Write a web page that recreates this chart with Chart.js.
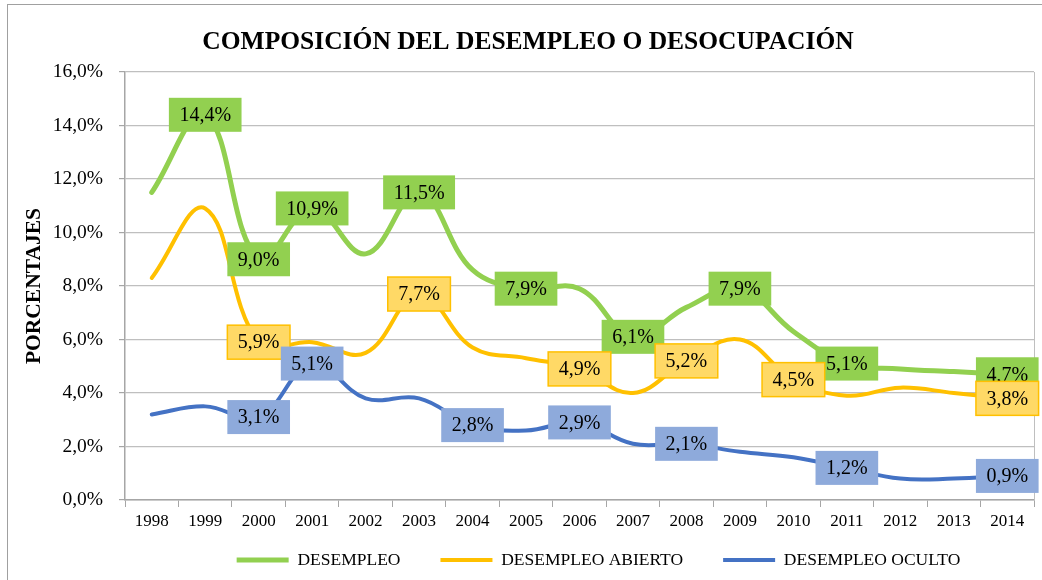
<!DOCTYPE html>
<html>
<head>
<meta charset="utf-8">
<script src="https://cdn.jsdelivr.net/npm/chart.js@4"></script>
<style>
  html, body { margin: 0; padding: 0; background: #fff; }
  #wrap { position: relative; width: 1042px; height: 580px; }
  #frame { position: absolute; left: 7px; top: 4px; width: 1100px; height: 700px; border-left: 1px solid #a0a0a0; border-top: 1px solid #a0a0a0; pointer-events: none; }
</style>
</head>
<body>
<div id="wrap">
  <canvas id="desempleoChart" width="1042" height="580"></canvas>
  <div id="frame"></div>
</div>
<script>
const years = ['1998', '1999', '2000', '2001', '2002', '2003', '2004', '2005', '2006', '2007', '2008', '2009', '2010', '2011', '2012', '2013', '2014'];
const desempleo = [11.5, 14.4, 9.0, 10.9, 9.2, 11.5, 8.6, 7.9, 7.9, 6.1, 7.2, 7.9, 6.3, 5.1, 4.9, 4.8, 4.7];
const desempleoAbierto = [8.3, 10.9, 5.9, 5.9, 5.5, 7.7, 5.7, 5.3, 4.9, 4.0, 5.2, 6.0, 4.5, 3.9, 4.2, 4.0, 3.8];
const desempleoOculto = [3.2, 3.5, 3.1, 5.1, 3.8, 3.8, 2.8, 2.6, 2.9, 2.1, 2.1, 1.8, 1.6, 1.2, 0.8, 0.8, 0.9];
// indices of points that carry a value box
const labelledDesempleo = [1, 2, 3, 5, 7, 9, 11, 13, 16];
const labelledAbierto = [2, 5, 8, 10, 12, 16];
const labelledOculto = [2, 3, 6, 8, 10, 13, 16];
const yTicks = [0, 2, 4, 6, 8, 10, 12, 14, 16];

const serif = "'Liberation Serif', 'Times New Roman', serif";

function fmt(v) {
    return v.toFixed(1).replace('.', ',') + '%';
}

// boxes with the value, drawn on top of every line
const valueBoxes = {
    id: 'valueBoxes',
    afterLayout(chart) {
        // nudge title and legend to where the original sits
        chart.titleBlock.left += 11;
        chart.titleBlock.right += 11;
        chart.legend.left += 19;
        chart.legend.right += 19;
        chart.legend.top -= 20.75;
        chart.legend.height += 20.75;
    },
    beforeDatasetsDraw(chart) {
        const a = chart.chartArea;
        const ctx = chart.ctx;
        ctx.save();
        ctx.strokeStyle = '#bfbfbf';
        ctx.lineWidth = 1;
        ctx.beginPath();
        ctx.moveTo(a.right + 0.5, a.top);
        ctx.lineTo(a.right + 0.5, a.bottom);
        ctx.stroke();
        ctx.restore();
    },
    afterDatasetsDraw(chart) {
        const ctx = chart.ctx;
        ctx.save();
        ctx.font = '20px ' + serif;
        ctx.textAlign = 'center';
        ctx.textBaseline = 'middle';
        chart.data.datasets.forEach(function (ds, di) {
            const meta = chart.getDatasetMeta(di);
            ds.labelled.forEach(function (i) {
                const pt = meta.data[i];
                const text = fmt(ds.data[i]);
                const w = ctx.measureText(text).width + 21;
                const h = 34;
                const x = pt.x - w / 2;
                const y = pt.y - h / 2;
                ctx.fillStyle = ds.boxFill;
                ctx.fillRect(x, y, w, h);
                if (ds.boxBorder) {
                    ctx.lineWidth = 1.5;
                    ctx.strokeStyle = ds.boxBorder;
                    ctx.strokeRect(x, y, w, h);
                }
                ctx.fillStyle = '#000';
                ctx.fillText(text, pt.x, pt.y + 1);
            });
        });
        ctx.restore();
    }
};

const ctx = document.getElementById('desempleoChart').getContext('2d');
new Chart(ctx, {
    type: 'line',
    data: {
        labels: years,
        datasets: [{
            label: 'DESEMPLEO',
            data: desempleo,
            labelled: labelledDesempleo,
            borderColor: '#92d050',
            boxFill: '#92d050',
            borderWidth: 5,
            borderCapStyle: 'round',
            pointRadius: 0,
            tension: 0.4
        }, {
            label: 'DESEMPLEO ABIERTO',
            data: desempleoAbierto,
            labelled: labelledAbierto,
            borderColor: '#ffc000',
            boxFill: '#ffd966',
            boxBorder: '#ffc000',
            borderWidth: 4,
            borderCapStyle: 'round',
            pointRadius: 0,
            tension: 0.4
        }, {
            label: 'DESEMPLEO OCULTO',
            data: desempleoOculto,
            labelled: labelledOculto,
            borderColor: '#4472c4',
            boxFill: '#8eaadb',
            borderWidth: 4,
            borderCapStyle: 'round',
            pointRadius: 0,
            tension: 0.4
        }]
    },
    options: {
        responsive: false,
        animation: false,
        layout: { padding: { left: 0, right: 8, top: 0, bottom: 0 } },
        plugins: {
            title: {
                display: true,
                text: 'COMPOSICIÓN DEL DESEMPLEO O DESOCUPACIÓN',
                color: '#000',
                font: { family: serif, size: 25.5, weight: 'bold' },
                padding: { top: 26.7, bottom: 14.7 }
            },
            legend: {
                position: 'bottom',
                fullSize: false,
                maxHeight: 48,
                labels: {
                    color: '#000',
                    font: { family: serif, size: 17.5 },
                    usePointStyle: true,
                    pointStyle: 'line',
                    pointStyleWidth: 52,
                    padding: 40
                }
            },
            tooltip: { enabled: false }
        },
        scales: {
            y: {
                min: 0,
                max: 16,
                afterFit: function (scale) { scale.width = 125; },
                afterBuildTicks: function (scale) {
                    scale.ticks = yTicks.map(function (v) { return { value: v }; });
                },
                ticks: {
                    color: '#000',
                    font: { family: serif, size: 19.5 },
                    padding: 16,
                    callback: function (v) { return fmt(v); }
                },
                grid: { color: '#bfbfbf', lineWidth: 1.2, tickLength: 6, tickColor: '#a6a6a6' },
                border: { color: '#a6a6a6', width: 1.5 },
                title: {
                    display: true,
                    text: 'PORCENTAJES',
                    color: '#000',
                    font: { family: serif, size: 21.5, weight: 'bold' },
                    padding: { top: 22, bottom: 0 }
                }
            },
            x: {
                offset: true,
                afterFit: function (scale) { scale.height = 32; },
                ticks: {
                    color: '#000',
                    font: { family: serif, size: 17 },
                    padding: 4,
                    maxRotation: 0,
                    autoSkip: false
                },
                grid: { offset: true, drawOnChartArea: false, tickLength: 7, color: '#a6a6a6' },
                border: { color: '#a6a6a6', width: 1.5 }
            }
        }
    },
    plugins: [valueBoxes]
});
</script>
</body>
</html>
